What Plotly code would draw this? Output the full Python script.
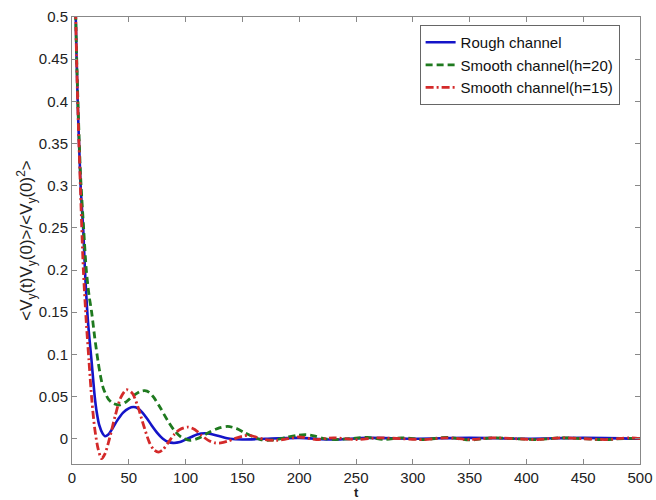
import plotly.graph_objects as go

# ---- data ----
t_rough = [0, 2, 3.3, 5, 7.6, 10, 11.4, 14, 17.3, 20, 21.7, 24, 27, 29, 32, 36, 40, 45, 50, 54,
           58, 62, 66, 70, 75, 80, 85, 89, 95, 100, 105, 110, 117, 124, 130, 139, 150, 170, 200,
           230, 260, 300, 350, 400, 450, 500]
v_rough = [1.0, 0.68, 0.5, 0.4, 0.3, 0.245, 0.2, 0.14, 0.091, 0.05, 0.032, 0.016, 0.006, 0.003,
           0.005, 0.013, 0.022, 0.031, 0.036, 0.0375, 0.036, 0.031, 0.024, 0.016, 0.007, 0.0,
           -0.004, -0.005, -0.004, -0.001, 0.002, 0.005, 0.0065, 0.005, 0.003, 0.0, -0.001, 0.0,
           0.001, -0.001, 0.001, 0.0, 0.001, 0.0, 0.001, 0.0]

t_h20 = [0, 2, 3.3, 5, 7.6, 10, 12.6, 15, 17.3, 20, 23, 25, 27.5, 30, 32, 36, 42, 48, 54, 60, 64,
         68, 72, 78, 84, 90, 96, 104, 112, 120, 128, 137, 145, 152, 160, 166, 172, 180, 190, 198,
         206, 214, 222, 232, 245, 260, 275, 290, 310, 330, 350, 370, 390, 410, 430, 450, 470, 490,
         500]
v_h20 = [1.0, 0.68, 0.5, 0.41, 0.31, 0.255, 0.2, 0.17, 0.15, 0.12, 0.091, 0.075, 0.06, 0.052,
         0.047, 0.042, 0.040, 0.044, 0.051, 0.056, 0.057, 0.055, 0.049, 0.036, 0.022, 0.01, 0.002,
         -0.002, 0.001, 0.007, 0.012, 0.0145, 0.012, 0.007, 0.002, -0.001, -0.002, -0.001, 0.002,
         0.004, 0.0047, 0.003, 0.0, -0.001, 0.0, 0.0015, -0.001, 0.001, -0.001, 0.0015, -0.0015,
         0.001, 0.0, -0.001, 0.001, 0.0, -0.001, 0.0005, 0.0]

t_h15 = [0, 2, 3.3, 5, 7.6, 10, 12.5, 15, 17.5, 20, 23, 26, 29, 33, 38, 43, 48, 53, 58, 63, 68,
         72, 76, 80, 85, 90, 95, 102, 108, 114, 120, 126, 131, 137, 143, 150, 156, 162, 170, 180,
         190, 200, 215, 230, 250, 270, 290, 310, 330, 350, 370, 390, 410, 430, 450, 470, 490, 500]
v_h15 = [1.0, 0.68, 0.5, 0.4, 0.29, 0.2, 0.14, 0.091, 0.045, 0.012, -0.012, -0.0237, -0.018, 0.0,
         0.027, 0.049, 0.058, 0.054, 0.038, 0.016, -0.004, -0.013, -0.016, -0.013, -0.004, 0.005,
         0.011, 0.0138, 0.011, 0.004, -0.002, -0.005, -0.005, -0.003, 0.0, 0.003, 0.004, 0.002,
         -0.001, -0.002, 0.0, 0.002, -0.001, 0.001, -0.001, 0.001, 0.0, -0.001, 0.001, -0.001,
         0.001, 0.0, -0.001, 0.001, 0.0, -0.001, 0.001, 0.0]

series_names = ["Rough channel", "Smooth channel(h=20)", "Smooth channel(h=15)"]

x_ticks = [0, 50, 100, 150, 200, 250, 300, 350, 400, 450, 500]
y_ticks = [0, 0.05, 0.1, 0.15, 0.2, 0.25, 0.3, 0.35, 0.4, 0.45, 0.5]
y_tick_labels = ["0", "0.05", "0.1", "0.15", "0.2", "0.25", "0.3", "0.35", "0.4", "0.45", "0.5"]
x_title = "t"
y_title = "&lt;V<sub>y</sub>(t)V<sub>y</sub>(0)&gt;/&lt;V<sub>y</sub>(0)<sup>2</sup>&gt;"

fig = go.Figure()
fig.add_trace(go.Scatter(x=t_rough, y=v_rough, mode="lines", name=series_names[0],
                         line=dict(color="#1414c8", width=2.6, shape="spline", smoothing=0.8)))
fig.add_trace(go.Scatter(x=t_h20, y=v_h20, mode="lines", name=series_names[1],
                         line=dict(color="#1f7a1f", width=2.8, dash="7px,4px", shape="spline",
                                   smoothing=0.8)))
fig.add_trace(go.Scatter(x=t_h15, y=v_h15, mode="lines", name=series_names[2],
                         line=dict(color="#d42a2a", width=2.8, dash="8px,3px,2px,3px",
                                   shape="spline", smoothing=0.8)))

axis_common = dict(showline=True, mirror="ticks", linecolor="#888888", linewidth=1,
                   ticks="inside", ticklen=5, tickcolor="#888888", showgrid=False,
                   zeroline=False, automargin=False,
                   tickfont=dict(family="Liberation Sans, Arial", size=15, color="#222222"))

fig.update_layout(
    width=656, height=500,
    margin=dict(l=72, r=16, t=17, b=36),
    paper_bgcolor="white", plot_bgcolor="white",
    font=dict(family="Liberation Sans, Arial", color="#222222"),
    xaxis=dict(range=[0, 500], tickvals=x_ticks, **axis_common),
    yaxis=dict(range=[-0.03, 0.5], tickvals=y_ticks, ticktext=y_tick_labels,
               title=dict(text=y_title, font=dict(size=17), standoff=0),
               **axis_common),
    legend=dict(x=0.612, y=0.982, xanchor="left", yanchor="top",
                bgcolor="white", bordercolor="#666666", borderwidth=1,
                font=dict(family="Liberation Sans, Arial", size=15, color="#111111"),
                tracegroupgap=0, itemwidth=30),
    showlegend=True,
    annotations=[dict(text="<b>" + x_title + "</b>", xref="paper", yref="paper",
                      x=0.5, y=0, yshift=-20, xanchor="center", yanchor="top",
                      borderpad=0, showarrow=False, font=dict(size=13, color="#222222"))],
)

fig.write_html("out.html")
